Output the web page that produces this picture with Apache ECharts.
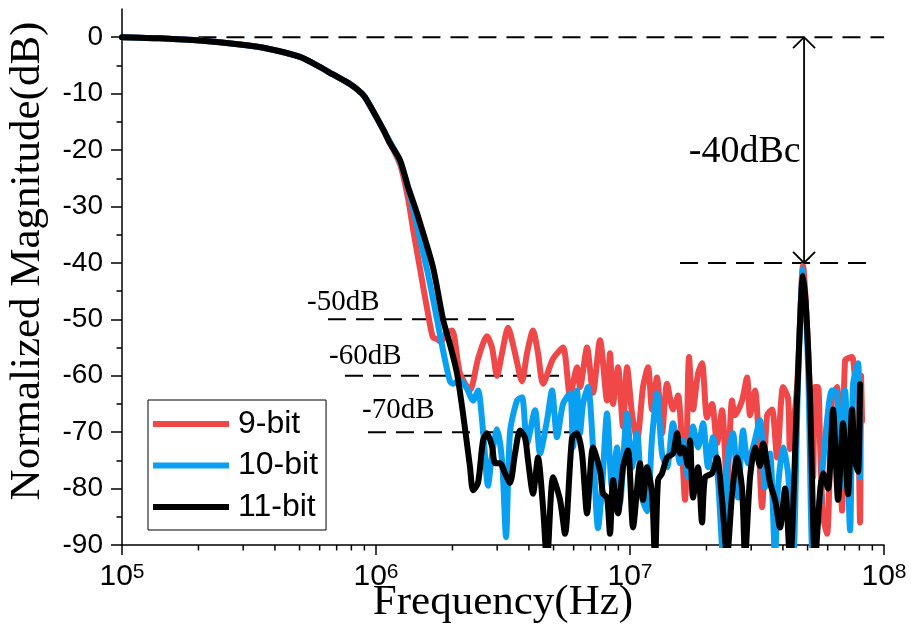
<!DOCTYPE html>
<html>
<head>
<meta charset="utf-8">
<script src="https://cdn.jsdelivr.net/npm/echarts@6/dist/echarts.min.js"></script>
<style>
  html, body { margin: 0; padding: 0; background: #fff; }
  #chart { width: 911px; height: 640px; }
</style>
</head>
<body>
<div id="chart"></div>
<script>
// Normalized magnitude responses: [frequency in MHz, magnitude in dB]
const rollOff = [
  [0.1, 0], [0.1177, -0.1], [0.1411, -0.2], [0.2028, -0.6], [0.2915, -1.3],
  [0.3723, -2.0], [0.5021, -3.5], [0.5857, -5.0], [0.677, -6.6], [0.790, -8.3],
  [0.881, -10], [0.922, -11.2], [1.0655, -16.3]
];

const bit9 = rollOff.concat([
  [1.243, -22.5], [1.3366, -28.5], [1.3986, -34], [1.4902, -41], [1.617, -50],
  [1.6767, -53.2], [1.7387, -53.5], [1.8029, -54], [1.8865, -52.5], [1.992, -52],
  [2.1417, -59.6], [2.3449, -62.5], [2.5215, -57], [2.7358, -53], [2.8627, -55],
  [2.9954, -60], [3.1343, -56], [3.3096, -51.5], [3.5264, -56], [3.7575, -61],
  [3.9318, -56], [4.1515, -52], [4.3441, -56], [4.5454, -61.4], [4.9768, -57],
  [5.4491, -55], [5.806, -63.5], [6.1865, -58.5], [6.3569, -62], [6.7736, -55],
  [7.1522, -63], [7.6206, -53.7], [8.1201, -64.4], [8.3438, -56], [8.574, -65],
  [8.9717, -58.5], [9.3876, -69], [9.7344, -58.5], [10.186, -66.7], [10.658, -71.5],
  [11.254, -62], [11.777, -58.5], [12.212, -66], [12.777, -60.3], [13.37, -70.2],
  [13.99, -61.4], [14.772, -66], [15.457, -63.5], [16.469, -82], [17.079, -56.7],
  [17.709, -66], [18.53, -59.6], [19.214, -57.8], [20.105, -67.4], [21.038, -65],
  [22.014, -72], [23.034, -66.1], [24.102, -79.8], [25.22, -64.4], [25.915, -67],
  [27.614, -64.4], [28.895, -60.3], [29.691, -67], [31.068, -62.6], [31.925, -69],
  [33.104, -83.3], [34.639, -67], [36.246, -66], [37.926, -74.5], [40.046, -62],
  [41.904, -64], [42.67, -73], [45.467, -62], [48.008, -40.5], [50.236, -55],
  [52.564, -78], [53.526, -62], [55.004, -62], [56.008, -72], [57.553, -85],
  [59.678, -88], [62.446, -63.8], [65.342, -62], [68.373, -83.9], [70.257, -57.3],
  [74.861, -56.7], [76.924, -60], [78.333, -58], [80.492, -86], [81.229, -60],
  [81.966, -68]
]);

const bit10 = rollOff.concat([
  [1.243, -22], [1.361, -28], [1.4769, -35], [1.6024, -42], [1.7387, -50],
  [1.8359, -55.5], [1.9561, -61], [2.0101, -61.4], [2.1417, -60.8], [2.2821, -62.3],
  [2.4096, -64.4], [2.5215, -62.6], [2.6384, -69.7], [2.7607, -79.5], [2.8627, -74],
  [2.9954, -69.5], [3.1343, -75], [3.25, -88.6], [3.37, -70], [3.591, -64.4],
  [3.7575, -63.8], [3.9318, -72], [4.2275, -66.1], [4.4234, -73.8], [4.7134, -67.9],
  [4.932, -62.6], [5.1606, -70.9], [5.4491, -65], [5.806, -63.1], [5.9662, -72.7],
  [6.1865, -62.6], [6.3569, -70.2], [6.5323, -65], [6.8353, -62], [7.1522, -72.7],
  [7.4839, -87], [7.7602, -80], [8.1201, -66.7], [8.4967, -79.8], [8.8907, -72.7],
  [9.1356, -82.6], [9.7344, -66.7], [10.186, -76.2], [10.658, -70.2], [11.152, -81.6],
  [11.67, -84], [12.212, -71], [12.777, -63.1], [13.37, -73.8], [13.99, -76.2],
  [14.772, -68.4], [15.739, -75.5], [16.173, -71.5], [16.924, -78], [17.709, -69],
  [18.53, -72.7], [19.389, -68.4], [20.289, -76.2], [21.229, -70.9], [22.214, -78.5],
  [23.244, -92], [24.322, -73.8], [25.449, -70.2], [26.631, -81.6], [27.865, -69.7],
  [29.158, -75.5], [30.51, -72.7], [32.508, -67.9], [34.016, -79.8], [35.594, -73.8],
  [37.245, -92], [38.272, -79.8], [40.046, -72.7], [41.904, -77.3], [43.846, -93],
  [45.882, -61], [48.008, -41], [50.236, -58], [52.564, -93], [56.008, -81.6],
  [59.678, -67.9], [62.446, -62.6], [65.342, -63.1], [67.142, -79.8], [70.257, -62.6],
  [73.514, -87.4], [75.542, -61.5], [79.048, -57.8], [80.492, -78]
]);

const bit11 = rollOff.concat([
  [1.1353, -18.8], [1.243, -21.8], [1.3366, -26.5], [1.4503, -31.2], [1.6767, -40.8],
  [1.8359, -50], [1.9561, -54.5], [2.0843, -59.6], [2.2008, -66.7], [2.3449, -76.2],
  [2.4096, -80.3], [2.5215, -79], [2.6384, -71.5], [2.7358, -70.2], [2.8627, -72.5],
  [2.9415, -75.5], [3.0779, -75.5], [3.2207, -77.3], [3.37, -79], [3.5264, -73.8],
  [3.6899, -69.7], [3.8611, -71], [3.9676, -75], [4.1515, -80.9], [4.3441, -74.5],
  [4.5454, -83.3], [4.7134, -93], [4.9768, -78], [5.3028, -82], [5.5488, -88],
  [5.9124, -71], [6.1865, -70.2], [6.4734, -73.8], [6.7736, -84.4], [7.1522, -72.7],
  [7.6206, -76.8], [7.8308, -80.9], [8.1201, -81.6], [8.3438, -88], [8.574, -78.5],
  [8.9717, -84.4], [9.3876, -76.2], [9.8231, -73.2], [10.279, -86.9], [10.952, -75.5],
  [11.254, -82], [11.67, -76.2], [12.212, -80.9], [12.548, -93], [12.894, -78.5],
  [13.37, -77.3], [13.99, -74.5], [14.772, -73.8], [15.317, -70.2], [15.739, -73.8],
  [16.173, -72.7], [16.924, -76], [17.233, -71.5], [17.709, -81.6], [18.53, -76.2],
  [19.214, -86], [19.744, -78], [21.038, -77.3], [22.014, -74.5], [23.034, -82],
  [24.102, -92], [25.22, -81], [26.39, -74.5], [27.614, -80], [28.375, -92],
  [29.691, -78], [31.068, -72.7], [32.508, -76], [33.404, -72], [35.594, -79],
  [37.245, -82], [38.971, -86.9], [40.779, -80], [42.67, -93], [45.467, -64],
  [48.008, -42.3], [49.333, -48], [51.154, -64], [53.526, -93], [56.008, -80.5],
  [57.553, -77.3], [60.222, -80], [63.014, -66], [65.938, -82], [68.994, -68.4],
  [72.195, -81], [74.861, -66], [76.924, -75], [79.048, -77], [80.492, -61.5]
]);

// Axis ticks
const freqMajorTicks = [1e5, 1e6, 1e7, 1e8];
const freqMinorTicks = [
  2e5, 3e5, 4e5, 5e5, 6e5, 7e5, 8e5, 9e5,
  2e6, 3e6, 4e6, 5e6, 6e6, 7e6, 8e6, 9e6,
  2e7, 3e7, 4e7, 5e7, 6e7, 7e7, 8e7, 9e7
];
const magMajorTicks = [-90, -80, -70, -60, -50, -40, -30, -20, -10, 0];
const magMinorTicks = [-85, -75, -65, -55, -45, -35, -25, -15, -5];
const magFloor = -90;

// Reference levels: [start Hz, end Hz, level dB]
const levelLines = [
  [2.0e5, 1e8, 0],
  [1.574e7, 8.81e7, -40],
  [6.47e5, 3.53e6, -50],
  [7.55e5, 5.55e6, -60],
  [9.30e5, 6.53e6, -70]
];
// Level captions: [Hz, dB, text]
const levelLabels = [
  [5.35e5, -47.0, '-50dB'],
  [6.53e5, -56.6, '-60dB'],
  [8.81e5, -66.1, '-70dB']
];
// Spur-to-carrier marker: [Hz, top dB, bottom dB]
const spurArrow = [4.845e7, 0, -40];
const spurLabel = [4.70e7, -20.4, '-40dBc'];

const toHz = arr => arr.map(p => [p[0] * 1e6, p[1]]);

const chart = echarts.init(document.getElementById('chart'), null, { renderer: 'canvas' });

const sans = 'Liberation Sans, Arial, sans-serif';
const serif = 'Liberation Serif, Times New Roman, serif';

const lineSeries = (name, data, color) => ({
  name, type: 'line', data: toHz(data),
  xAxisIndex: 0, yAxisIndex: 0,
  showSymbol: false, symbol: 'none', clip: true, silent: true, z: 3,
  smooth: 0.25,
  lineStyle: { color, width: 6, cap: 'round', join: 'round' },
  itemStyle: { color }
});

const titles = [
  {
    type: 'text', x: 28, y: 261, rotation: Math.PI / 2,
    style: { text: 'Normalized Magnitude(dB)', fontFamily: serif, fontSize: 43, fill: '#000', align: 'center', verticalAlign: 'middle' }
  },
  {
    type: 'text', x: 503, y: 603,
    style: { text: 'Frequency(Hz)', fontFamily: serif, fontSize: 43, fill: '#000', align: 'center', verticalAlign: 'middle' }
  }
];

chart.setOption({
  animation: false,
  backgroundColor: '#fff',
  grid: { left: 122, right: 27, top: 9, bottom: 95, outerBoundsMode: 'none', containLabel: false },
  legend: {
    data: ['9-bit', '10-bit', '11-bit'],
    orient: 'vertical', left: 148, top: 400,
    icon: 'rect', itemWidth: 76, itemHeight: 6, itemGap: 9.5,
    padding: [8, 8, 7, 5],
    borderColor: '#000', borderWidth: 1, backgroundColor: '#fff',
    selectedMode: false,
    textStyle: { fontFamily: sans, fontSize: 32, lineHeight: 30, color: '#000', padding: [0, 0, 0, 4] }
  },
  xAxis: [{
    type: 'log', logBase: 10, min: 1e5, max: 1e8, position: 'bottom',
    axisLine: { show: true, onZero: false, lineStyle: { color: '#000', width: 1.5 } },
    axisTick: { show: false },
    minorTick: { show: false }, splitLine: { show: false }, minorSplitLine: { show: false },
    axisLabel: {
      customValues: freqMajorTicks, margin: 17,
      fontFamily: sans, fontSize: 30, color: '#000',
      formatter: v => '{b|10}{s|' + Math.round(Math.log10(v)) + '}',
      rich: {
        b: { fontFamily: sans, fontSize: 30, lineHeight: 30, color: '#000' },
        s: { fontFamily: sans, fontSize: 21, lineHeight: 17, verticalAlign: 'top', color: '#000' }
      }
    }
  }],
  yAxis: [{
    type: 'value', min: -90, max: 5, interval: 10, position: 'left',
    axisLine: { show: true, onZero: false, lineStyle: { color: '#000', width: 1.5 } },
    axisTick: { show: true, inside: false, length: 11, customValues: magMajorTicks, lineStyle: { color: '#000', width: 1.5 } },
    splitLine: { show: false },
    axisLabel: { customValues: magMajorTicks, margin: 19, fontFamily: sans, fontSize: 28, color: '#000' }
  }, {
    type: 'value', min: -90, max: 5, interval: 10, position: 'left',
    axisLine: { show: false, onZero: false },
    axisTick: { show: true, inside: false, length: 5.5, customValues: magMinorTicks, lineStyle: { color: '#000', width: 1.5 } },
    axisLabel: { show: false }, splitLine: { show: false }
  }],
  graphic: titles,
  series: [
    {
      type: 'custom', name: 'levels', coordinateSystem: 'cartesian2d', xAxisIndex: 0, yAxisIndex: 0,
      data: levelLines.map(d => [d[0], d[2]]), clip: false, silent: true, z: 1,
      renderItem: (params, api) => {
        const d = levelLines[params.dataIndex];
        const a = api.coord([d[0], d[2]]);
        const b = api.coord([d[1], d[2]]);
        return {
          type: 'line', shape: { x1: a[0], y1: a[1], x2: b[0], y2: b[1] },
          style: { stroke: '#000', lineWidth: 2, lineDash: [18, 10], lineDashOffset: 0 }
        };
      }
    },
    lineSeries('9-bit', bit9, '#F04848'),
    lineSeries('10-bit', bit10, '#0AA0F2'),
    lineSeries('11-bit', bit11, '#000000'),
    {
      type: 'custom', name: 'captions', coordinateSystem: 'cartesian2d', xAxisIndex: 0, yAxisIndex: 0,
      data: levelLabels.map(d => [d[0], d[1]]), clip: false, silent: true, z: 5,
      renderItem: (params, api) => {
        const d = levelLabels[params.dataIndex];
        const p = api.coord([d[0], d[1]]);
        return {
          type: 'text', x: p[0], y: p[1],
          style: { text: d[2], fontFamily: serif, fontSize: 29, fill: '#000', align: 'left', verticalAlign: 'middle' }
        };
      }
    },
    {
      type: 'custom', name: 'spur', coordinateSystem: 'cartesian2d', xAxisIndex: 0, yAxisIndex: 0,
      data: [[spurArrow[0], spurArrow[1]]], clip: false, silent: true, z: 6,
      renderItem: (params, api) => {
        const top = api.coord([spurArrow[0], spurArrow[1]]);
        const bot = api.coord([spurArrow[0], spurArrow[2]]);
        const lab = api.coord([spurLabel[0], spurLabel[1]]);
        const h = 11;
        const stroke = { stroke: '#000', lineWidth: 1.8, fill: null };
        return {
          type: 'group',
          children: [
            { type: 'line', shape: { x1: top[0], y1: top[1], x2: bot[0], y2: bot[1] }, style: stroke },
            { type: 'polyline', shape: { points: [[top[0] - h, top[1] + h], [top[0], top[1]], [top[0] + h, top[1] + h]] }, style: stroke },
            { type: 'polyline', shape: { points: [[bot[0] - h, bot[1] - h], [bot[0], bot[1]], [bot[0] + h, bot[1] - h]] }, style: stroke },
            {
              type: 'text', x: lab[0], y: lab[1],
              style: { text: spurLabel[2], fontFamily: serif, fontSize: 38, fill: '#000', align: 'right', verticalAlign: 'middle' }
            }
          ]
        };
      }
    }
  ]
});

// Frequency-axis ticks: decades long, intermediate values short, placed through the axis scale
const tickMark = (f, len) => {
  const p = chart.convertToPixel({ xAxisIndex: 0, yAxisIndex: 0 }, [f, magFloor]);
  return {
    type: 'line', silent: true, z: 10,
    shape: { x1: p[0], y1: p[1], x2: p[0], y2: p[1] + len },
    style: { stroke: '#000', lineWidth: 1.5 }
  };
};
chart.setOption({
  graphic: titles
    .concat(freqMajorTicks.map(f => tickMark(f, 10)))
    .concat(freqMinorTicks.map(f => tickMark(f, 5.5)))
});
</script>
</body>
</html>
